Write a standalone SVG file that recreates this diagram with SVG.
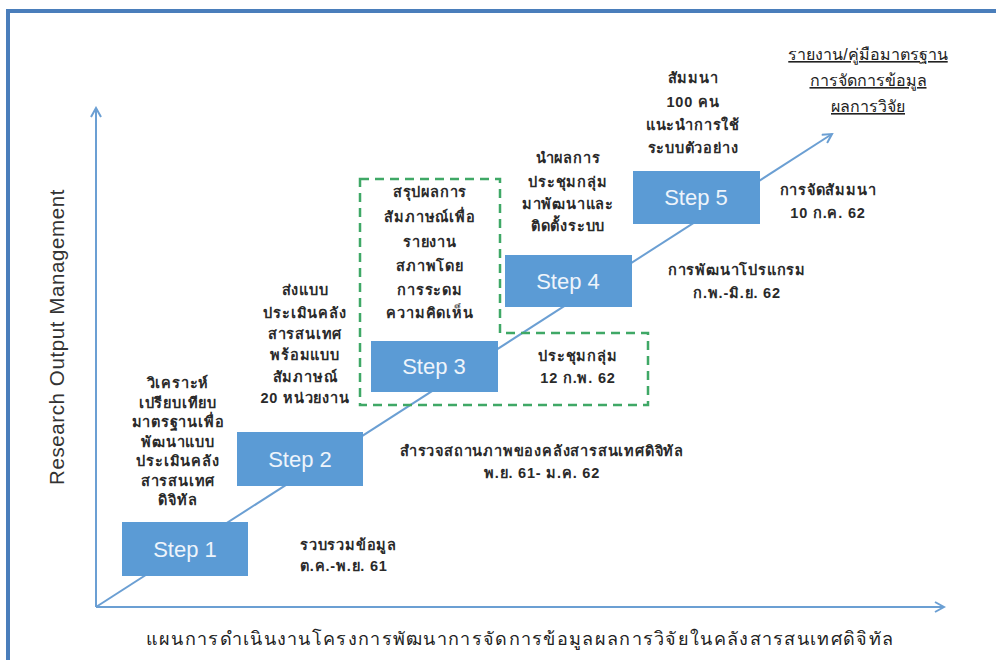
<svg xmlns="http://www.w3.org/2000/svg" width="996" height="660" viewBox="0 0 996 660">
<defs>
<marker id="arr" viewBox="0 0 12 12" refX="10" refY="6" markerWidth="12" markerHeight="12" markerUnits="userSpaceOnUse" orient="auto">
<path d="M1,1 L10,6 L1,11" fill="none" stroke="#6b9fd3" stroke-width="2"/>
</marker>
<style>
.ax{fill:none;stroke:#6b9fd3;stroke-width:2}
.box{fill:#5b9bd5}
.st{font-family:"Liberation Sans",Arial,sans-serif;font-size:22px;fill:#eef4fb;text-anchor:middle}
.t{font-family:"Liberation Sans","Noto Sans",sans-serif;font-size:14.5px;letter-spacing:0.8px;font-weight:bold;fill:#2a2a2a;text-anchor:middle}
.tl{font-family:"Liberation Sans","Noto Sans",sans-serif;font-size:14.5px;letter-spacing:0.8px;font-weight:bold;fill:#2a2a2a}
.ttl{font-family:"Liberation Sans","Noto Sans",sans-serif;font-size:16px;fill:#222;text-anchor:middle;text-decoration:underline}
.dash{fill:none;stroke:#3fa866;stroke-width:2.5;stroke-dasharray:9 6}
</style>
</defs>
<rect x="0" y="0" width="996" height="660" fill="#ffffff"/>
<path d="M8,660 L8,11 L996,11" fill="none" stroke="#4a7ebb" stroke-width="4"/>

<g id="connectors">
<line class="ax" x1="96" y1="607" x2="96" y2="108" marker-end="url(#arr)"/>
<line class="ax" x1="96" y1="607" x2="944" y2="607" marker-end="url(#arr)"/>
<line class="ax" x1="96" y1="607" x2="832" y2="134" marker-end="url(#arr)"/>
</g>

<g id="groupbox">
<path class="dash" d="M360,179 L500,179 L500,333 L648,333 L648,405 L360,405 Z"/>
</g>

<g id="step1"><rect class="box" x="122" y="522" width="126" height="54"/><text class="st" x="185" y="557">Step 1</text></g>
<g id="step2"><rect class="box" x="237" y="432" width="126" height="54"/><text class="st" x="300" y="467">Step 2</text></g>
<g id="step3"><rect class="box" x="371" y="341" width="127" height="51"/><text class="st" x="434" y="374">Step 3</text></g>
<g id="step4"><rect class="box" x="505" y="255" width="127" height="52"/><text class="st" x="568" y="289">Step 4</text></g>
<g id="step5"><rect class="box" x="633" y="171" width="127" height="53"/><text class="st" x="696" y="205">Step 5</text></g>

<g id="title">
<text class="ttl" x="868" y="60">รายงาน/คู่มือมาตรฐาน</text>
<text class="ttl" x="868" y="86">การจัดการข้อมูล</text>
<text class="ttl" x="868" y="112">ผลการวิจัย</text>
</g>

<g id="note5a">
<text class="t" x="693" y="83">สัมมนา</text>
<text class="t" x="693" y="107">100 คน</text>
<text class="t" x="693" y="130">แนะนำการใช้</text>
<text class="t" x="693" y="153">ระบบตัวอย่าง</text>
</g>
<g id="note4a">
<text class="t" x="568" y="163">นำผลการ</text>
<text class="t" x="568" y="187">ประชุมกลุ่ม</text>
<text class="t" x="568" y="209">มาพัฒนาและ</text>
<text class="t" x="568" y="231">ติดตั้งระบบ</text>
</g>
<g id="note3a">
<text class="t" x="430" y="197">สรุปผลการ</text>
<text class="t" x="430" y="222">สัมภาษณ์เพื่อ</text>
<text class="t" x="430" y="247">รายงาน</text>
<text class="t" x="430" y="271">สภาพโดย</text>
<text class="t" x="430" y="295">การระดม</text>
<text class="t" x="430" y="318">ความคิดเห็น</text>
</g>
<g id="note2a">
<text class="t" x="305" y="295">ส่งแบบ</text>
<text class="t" x="305" y="318">ประเมินคลัง</text>
<text class="t" x="305" y="339">สารสนเทศ</text>
<text class="t" x="305" y="360">พร้อมแบบ</text>
<text class="t" x="305" y="382">สัมภาษณ์</text>
<text class="t" x="305" y="403">20 หน่วยงาน</text>
</g>
<g id="note1a">
<text class="t" x="178" y="388">วิเคราะห์</text>
<text class="t" x="178" y="407.5">เปรียบเทียบ</text>
<text class="t" x="178" y="427">มาตรฐานเพื่อ</text>
<text class="t" x="178" y="446.5">พัฒนาแบบ</text>
<text class="t" x="178" y="466">ประเมินคลัง</text>
<text class="t" x="178" y="485.5">สารสนเทศ</text>
<text class="t" x="178" y="505">ดิจิทัล</text>
</g>
<g id="note5b">
<text class="t" x="828" y="195">การจัดสัมมนา</text>
<text class="t" x="828" y="218">10 ก.ค. 62</text>
</g>
<g id="note4b">
<text class="t" x="737" y="275">การพัฒนาโปรแกรม</text>
<text class="t" x="737" y="298">ก.พ.-มิ.ย. 62</text>
</g>
<g id="note3b">
<text class="t" x="578" y="361">ประชุมกลุ่ม</text>
<text class="t" x="578" y="383">12 ก.พ. 62</text>
</g>
<g id="note2b">
<text class="t" x="542" y="456">สำรวจสถานภาพของคลังสารสนเทศดิจิทัล</text>
<text class="t" x="542" y="478">พ.ย. 61- ม.ค. 62</text>
</g>
<g id="note1b">
<text class="tl" x="300" y="550">รวบรวมข้อมูล</text>
<text class="tl" x="300" y="571">ต.ค.-พ.ย. 61</text>
</g>

<g id="axislabels">
<text font-family="Liberation Sans,Arial,sans-serif" font-size="20.5" letter-spacing="0.6" fill="#333" text-anchor="middle" transform="translate(64,337) rotate(-90)">Research Output Management</text>
<text font-family="Liberation Sans,'Noto Sans',sans-serif" font-size="18" letter-spacing="1.3" fill="#222" text-anchor="middle" x="520" y="645">แผนการดำเนินงานโครงการพัฒนาการจัดการข้อมูลผลการวิจัยในคลังสารสนเทศดิจิทัล</text>
</g>
</svg>
